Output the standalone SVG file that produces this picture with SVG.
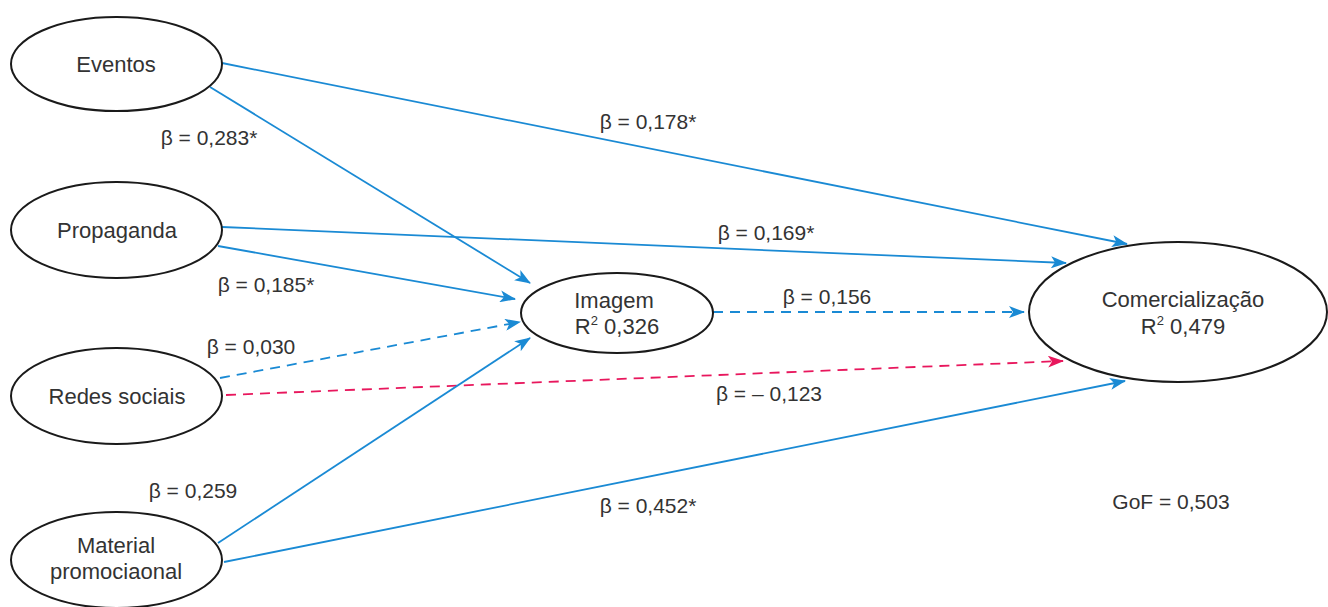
<svg xmlns="http://www.w3.org/2000/svg" width="1328" height="607" viewBox="0 0 1328 607">
<style>
.node{fill:#fff;stroke:#1a1a1a;stroke-width:2}
.t{font-family:"Liberation Sans",Arial,sans-serif;font-size:22px;fill:#333;text-anchor:middle}
.lb{font-family:"Liberation Sans",Arial,sans-serif;font-size:21px;fill:#333;text-anchor:middle}
.b{fill:none;stroke:#1a8ad4;stroke-width:1.8}
.p{fill:none;stroke:#e8175d;stroke-width:1.8}
.d{stroke-dasharray:10 7}
</style>
<defs>
<marker id="ab" markerWidth="16" markerHeight="12" refX="15" refY="6" orient="auto" markerUnits="userSpaceOnUse"><path d="M0,0 L16,6 L0,12 L4,6 z" fill="#1a8ad4"/></marker>
<marker id="ap" markerWidth="16" markerHeight="12" refX="15" refY="6" orient="auto" markerUnits="userSpaceOnUse"><path d="M0,0 L16,6 L0,12 L4,6 z" fill="#e8175d"/></marker>
</defs>
<rect width="1328" height="607" fill="#fff"/>
<g id="connectors">
<line class="b" x1="222" y1="63" x2="1127" y2="244" marker-end="url(#ab)"/>
<line class="b" x1="210" y1="87" x2="530" y2="283" marker-end="url(#ab)"/>
<line class="b" x1="222" y1="227" x2="1066" y2="263" marker-end="url(#ab)"/>
<line class="b" x1="218" y1="246" x2="515" y2="299" marker-end="url(#ab)"/>
<line class="b d" x1="220" y1="378" x2="520" y2="322" marker-end="url(#ab)"/>
<line class="p d" x1="226" y1="395" x2="1063" y2="361" marker-end="url(#ap)"/>
<line class="b" x1="218" y1="543" x2="530" y2="338" marker-end="url(#ab)"/>
<line class="b" x1="224" y1="562" x2="1125" y2="381" marker-end="url(#ab)"/>
<line class="b d" x1="713" y1="312" x2="1024" y2="312" marker-end="url(#ab)"/>
</g>
<g id="eventos"><ellipse class="node" cx="116.5" cy="64" rx="105.5" ry="47"/><text class="t" x="116" y="72">Eventos</text></g>
<g id="propaganda"><ellipse class="node" cx="116.5" cy="230" rx="105.5" ry="48"/><text class="t" x="117" y="238">Propaganda</text></g>
<g id="redes"><ellipse class="node" cx="116.5" cy="396" rx="105.5" ry="48"/><text class="t" x="117" y="404">Redes sociais</text></g>
<g id="material"><ellipse class="node" cx="116.5" cy="560" rx="105.5" ry="48"/><text class="t" x="116" y="553">Material</text><text class="t" x="116" y="579">promociaonal</text></g>
<g id="imagem"><ellipse class="node" cx="617" cy="313" rx="96" ry="40"/><text class="t" x="614" y="308">Imagem</text><text class="t" x="617" y="334">R<tspan font-size="13" dy="-9">2</tspan><tspan dy="9"> 0,326</tspan></text></g>
<g id="comercializacao"><ellipse class="node" cx="1178" cy="312" rx="149" ry="70"/><text class="t" x="1183" y="307">Comercialização</text><text class="t" x="1183" y="334">R<tspan font-size="13" dy="-9">2</tspan><tspan dy="9"> 0,479</tspan></text></g>
<g id="labels">
<text class="lb" x="209" y="145">β = 0,283*</text>
<text class="lb" x="648" y="129">β = 0,178*</text>
<text class="lb" x="766" y="240">β = 0,169*</text>
<text class="lb" x="266" y="292">β = 0,185*</text>
<text class="lb" x="827" y="304">β = 0,156</text>
<text class="lb" x="251" y="354">β = 0,030</text>
<text class="lb" x="769" y="401">β = – 0,123</text>
<text class="lb" x="193" y="498">β = 0,259</text>
<text class="lb" x="648" y="513">β = 0,452*</text>
<text class="lb" x="1171" y="509">GoF = 0,503</text>
</g>
</svg>
